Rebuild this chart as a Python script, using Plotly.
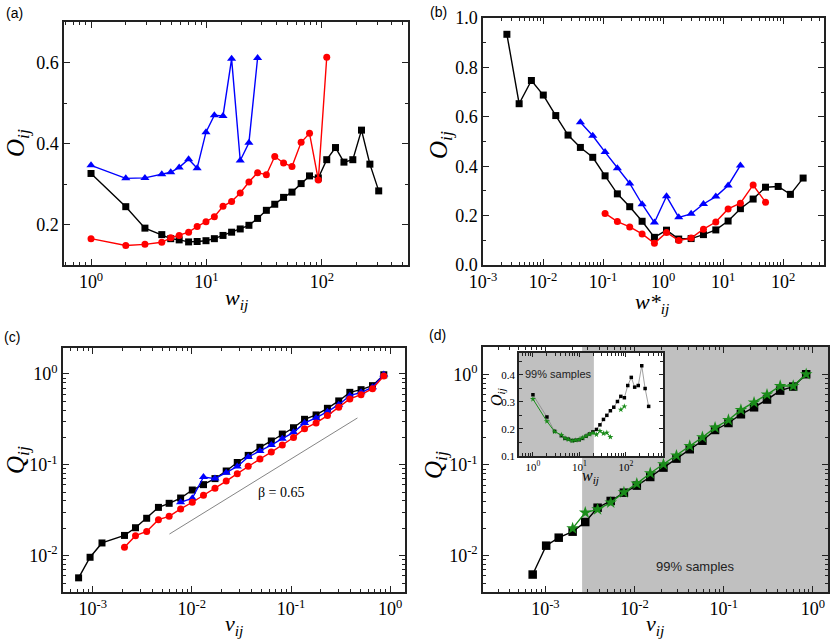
import math
import plotly.graph_objects as go

# ---------------- data ----------------
# panel (a): O_ij vs w_ij
a_w = [1, 2, 2.93, 4.1, 4.9, 5.8, 7.0, 8.3, 9.9, 11.7, 13.9, 16.5, 19.6, 23.3, 27.7,
       33, 39, 46.5, 55, 66, 78, 93, 110, 131, 155, 185, 220, 260, 310]
a_black = [0.326, 0.244, 0.191, 0.175, 0.165, 0.162, 0.157, 0.158, 0.160, 0.165, 0.173,
           0.181, 0.189, 0.198, 0.215, 0.235, 0.250, 0.267, 0.280, 0.301, 0.320, 0.315,
           0.360, 0.390, 0.354, 0.360, 0.433, 0.349, 0.283]
a_red = [0.165, 0.148, 0.151, 0.156, 0.167, 0.173, 0.181, 0.195, 0.207, 0.219, 0.245,
         0.257, 0.278, 0.305, 0.328, 0.323, 0.368, 0.352, 0.343, 0.403, 0.425, 0.310, 0.613]
a_blue = [0.346, 0.314, 0.315, 0.324, 0.329, 0.341, 0.361, 0.339, 0.428, 0.470, 0.468,
          0.609, 0.358, 0.402, 0.611]

# panel (b): O_ij vs w*_ij
b_w = [0.0025, 0.004, 0.0064, 0.0101, 0.0163, 0.0261, 0.0419, 0.0673, 0.108, 0.173,
       0.278, 0.447, 0.717, 1.14, 1.82, 2.93, 4.7, 7.55, 12.1, 19.4, 31.6, 50.8, 82.6,
       132, 215]
b_black = [0.934, 0.653, 0.747, 0.688, 0.605, 0.526, 0.476, 0.436, 0.361, 0.288, 0.236,
           0.177, 0.112, 0.141, 0.105, 0.107, 0.123, 0.142, 0.178, 0.228, 0.267, 0.315,
           0.318, 0.286, 0.352]
b_red_start = 8
b_red = [0.209, 0.176, 0.154, 0.126, 0.088, 0.132, 0.099, 0.109, 0.145, 0.174, 0.227,
         0.250, 0.324, 0.254]
b_blue_start = 6
b_blue = [0.578, 0.523, 0.457, 0.392, 0.330, 0.246, 0.172, 0.278, 0.193, 0.207, 0.247,
          0.277, 0.322, 0.403]

# panel (c): Q_ij vs v_ij
c_v = [7.2e-4, 9.4e-4, 1.24e-3, 2.09e-3, 2.7e-3, 3.5e-3, 4.6e-3, 5.9e-3, 7.7e-3, 0.0101,
       0.0131, 0.0171, 0.0222, 0.0287, 0.037, 0.0486, 0.0633, 0.0817, 0.106, 0.137, 0.179,
       0.233, 0.303, 0.392, 0.509, 0.664, 0.863]
c_black = [0.0057, 0.0096, 0.0138, 0.0167, 0.0203, 0.0258, 0.034, 0.0377, 0.0431, 0.0528,
           0.0605, 0.0705, 0.0855, 0.106, 0.127, 0.156, 0.183, 0.218, 0.256, 0.317, 0.354,
           0.419, 0.505, 0.628, 0.672, 0.744, 0.98]
c_red_start = 3
c_red = [0.0124, 0.0166, 0.0185, 0.0249, 0.0271, 0.0327, 0.0387, 0.0461, 0.0551, 0.0663,
         0.08, 0.0962, 0.116, 0.138, 0.165, 0.2, 0.25, 0.289, 0.348, 0.43, 0.531, 0.592,
         0.689, 0.95]
c_blue_start = 8
c_blue = [0.0387, 0.0428, 0.0735, 0.0705, 0.082, 0.096, 0.122, 0.142, 0.165, 0.194,
          0.228, 0.289, 0.328, 0.385, 0.459, 0.577, 0.628, 0.713, 0.99]
guide_v = [0.00594, 0.468]
guide_q = [0.0173, 0.328]
guide_label = "β = 0.65"

# panel (d): Q_ij vs v_ij, with 99% samples
d_v = [7.2e-4, 1.02e-3, 1.41e-3, 2.02e-3, 2.8e-3, 3.85e-3, 5.4e-3, 7.6e-3, 0.0106, 0.015,
       0.0211, 0.0295, 0.0416, 0.0577, 0.08, 0.113, 0.156, 0.219, 0.306, 0.43, 0.602, 0.842]
d_black = [0.0062, 0.0129, 0.0158, 0.0184, 0.0235, 0.0338, 0.0401, 0.0495, 0.0592, 0.0737,
           0.0935, 0.1175, 0.149, 0.185, 0.243, 0.29, 0.362, 0.432, 0.526, 0.66, 0.731, 1.0]
d_green_start = 3
d_green = [0.02, 0.0298, 0.0324, 0.0385, 0.05, 0.0623, 0.081, 0.1017, 0.127, 0.162, 0.202,
           0.258, 0.313, 0.404, 0.487, 0.597, 0.743, 0.743, 1.0]
d_sample_cut = 0.00258
inset_green = [0.31, 0.228, 0.19, 0.178, 0.166, 0.161, 0.156, 0.158, 0.161, 0.167, 0.174,
               0.18, 0.185, 0.179, 0.192, 0.183, 0.186, 0.17, None, None, 0.271, 0.283]
inset_sample_cut = 20.5
sample_label = "99% samples"

# ---------------- styling ----------------
SERIF = "Liberation Serif"
SANS = "Liberation Sans"
BLACK = "#000000"
RED = "#ff0000"
BLUE = "#0000ff"
GREEN = "#1a8c1a"
GRAY = "#c0c0c0"
W, H = 830, 641


def px(x, y):
    return x / W, 1 - y / H


def axis(**kw):
    base = dict(showline=True, linecolor="#222", linewidth=1.5, mirror="allticks",
                ticks="inside", ticklen=6, tickwidth=1.2, tickcolor="#222",
                showgrid=False, zeroline=False, automargin=False,
                tickfont=dict(family=SERIF, size=18, color="black"))
    base.update(kw)
    return base


def logminor():
    return dict(ticks="inside", ticklen=3, tickwidth=1, tickcolor="#222", dtick="D1", showgrid=False)


def linminor(d):
    return dict(ticks="inside", ticklen=3, tickwidth=1, tickcolor="#222", dtick=d, showgrid=False)


def pw(lo, hi):
    vals = [10 ** k for k in range(lo, hi + 1)]
    txt = ["10<sup>%d</sup>" % k for k in range(lo, hi + 1)]
    return vals, txt


fig = go.Figure()


def add(x, y, color, symbol, size, xa, ya, lw=1.4, lcolor=None):
    fig.add_trace(go.Scatter(x=x, y=y, mode="lines+markers", xaxis=xa, yaxis=ya,
                             line=dict(color=lcolor or color, width=lw),
                             marker=dict(color=color, symbol=symbol, size=size, line=dict(width=0)),
                             connectgaps=False, showlegend=False, hoverinfo="skip"))


a_rng = [-0.234, 2.745]
b_rng = [-3.0, 2.68]
c_rng = [-3.30, 0.15]
cy_rng = [-2.40, 0.286]
d_rng = [-3.70, 0.17]
dy_rng = [-2.40, 0.30]
i_rng = [-0.3, 2.8]
iy_rng = [0.1, 0.48]

# (a)
add(a_w, a_black, BLACK, "square", 7, "x", "y")
add(a_w[:len(a_red)], a_red, RED, "circle", 7, "x", "y")
add(a_w[:len(a_blue)], a_blue, BLUE, "triangle-up", 8, "x", "y")
# (b)
add(b_w, b_black, BLACK, "square", 7, "x2", "y2")
add(b_w[b_red_start:b_red_start + len(b_red)], b_red, RED, "circle", 7, "x2", "y2")
add(b_w[b_blue_start:b_blue_start + len(b_blue)], b_blue, BLUE, "triangle-up", 8, "x2", "y2")
# (c)
fig.add_trace(go.Scatter(x=guide_v, y=guide_q, mode="lines", xaxis="x3", yaxis="y3",
                         line=dict(color="#666", width=0.8), showlegend=False, hoverinfo="skip"))
add(c_v, c_black, BLACK, "square", 7, "x3", "y3")
add(c_v[c_blue_start:c_blue_start + len(c_blue)], c_blue, BLUE, "triangle-up", 8, "x3", "y3")
add(c_v[c_red_start:c_red_start + len(c_red)], c_red, RED, "circle", 7, "x3", "y3")
# (d)
add(d_v, d_black, BLACK, "square", 8.5, "x4", "y4")
add(d_v[d_green_start:d_green_start + len(d_green)], d_green, GREEN, "star", 9.5, "x4", "y4")
# inset: shaded 99% region then curves
ix0 = 10 ** i_rng[0]
fig.add_trace(go.Scatter(x=[ix0, inset_sample_cut, inset_sample_cut, ix0],
                         y=[iy_rng[0], iy_rng[0], iy_rng[1], iy_rng[1]],
                         mode="lines", fill="toself", fillcolor=GRAY, line=dict(width=0),
                         xaxis="x5", yaxis="y5", showlegend=False, hoverinfo="skip"))
add(a_w, a_black, BLACK, "square", 3.5, "x5", "y5", lw=0.8, lcolor="#888")
add(a_w[:len(inset_green)], inset_green, GREEN, "star", 4.5, "x5", "y5", lw=1.0)

v, t = pw(0, 2)
fig.update_layout(xaxis=axis(domain=[64 / W, 408 / W], anchor="y", type="log", range=a_rng,
                             tickvals=v, ticktext=t, minor=logminor()))
fig.update_layout(yaxis=axis(domain=[1 - 265 / H, 1 - 22 / H], anchor="x", range=[0.1, 0.7],
                             tickvals=[0.2, 0.4, 0.6], ticktext=["0.2", "0.4", "0.6"],
                             minor=linminor(0.1)))
v, t = pw(-3, 2)
fig.update_layout(xaxis2=axis(domain=[483 / W, 824 / W], anchor="y2", type="log", range=b_rng,
                              tickvals=v, ticktext=t, minor=logminor()))
fig.update_layout(yaxis2=axis(domain=[1 - 265 / H, 1 - 18 / H], anchor="x2", range=[0, 1.0],
                              tickvals=[0, 0.2, 0.4, 0.6, 0.8, 1.0],
                              ticktext=["0.0", "0.2", "0.4", "0.6", "0.8", "1.0"],
                              minor=linminor(0.1)))
v, t = pw(-3, 0)
fig.update_layout(xaxis3=axis(domain=[63 / W, 405 / W], anchor="y3", type="log", range=c_rng,
                              tickvals=v, ticktext=t, minor=logminor()))
v, t = pw(-2, 0)
fig.update_layout(yaxis3=axis(domain=[1 - 592 / H, 1 - 348 / H], anchor="x3", type="log", range=cy_rng,
                              tickvals=v, ticktext=t, minor=logminor()))
v, t = pw(-3, 0)
fig.update_layout(xaxis4=axis(domain=[483 / W, 828 / W], anchor="y4", type="log", range=d_rng,
                              tickvals=v, ticktext=t, minor=logminor()))
v, t = pw(-2, 0)
fig.update_layout(yaxis4=axis(domain=[1 - 592 / H, 1 - 347 / H], anchor="x4", type="log", range=dy_rng,
                              tickvals=v, ticktext=t, minor=logminor()))
v, t = pw(0, 2)
fig.update_layout(xaxis5=axis(domain=[519 / W, 663 / W], anchor="y5", type="log", range=i_rng,
                              tickvals=v, ticktext=t, minor=logminor(), ticklen=4,
                              tickfont=dict(family=SERIF, size=11, color="black")))
fig.update_layout(yaxis5=axis(domain=[1 - 456 / H, 1 - 353 / H], anchor="x5", range=iy_rng,
                              tickvals=[0.1, 0.2, 0.3, 0.4], ticktext=["0.1", "0.2", "0.3", "0.4"],
                              minor=linminor(0.05), ticklen=4,
                              tickfont=dict(family=SERIF, size=11, color="black")))

shapes = [
    dict(type="rect", xref="x4", yref="y4 domain", x0=d_sample_cut, x1=10 ** d_rng[1], y0=0, y1=1,
         fillcolor=GRAY, line=dict(width=0), layer="below"),
]

ann = []


def note(text, x, y, size, family=SERIF, angle=0, color="black", xanchor="center"):
    xx, yy = px(x, y)
    ann.append(dict(text=text, x=xx, y=yy, xref="paper", yref="paper", showarrow=False,
                    font=dict(family=family, size=size, color=color), textangle=angle,
                    xanchor=xanchor, yanchor="middle"))


for lab, (x, y) in zip(["(a)", "(b)", "(c)", "(d)"], [(14, 13), (438, 12), (12, 337), (437, 335)]):
    note(lab, x, y, 14, family=SANS)

OIJ = "<i>O</i><sub><i>ij</i></sub>"
QIJ = "<i>Q</i><sub><i>ij</i></sub>"
note(OIJ, 18, 143, 25, angle=-90)
note(OIJ, 441, 145, 25, angle=-90)
note(QIJ, 17, 460, 25, angle=-90)
note(QIJ, 435, 465, 25, angle=-90)
note("<i>w</i><sub><i>ij</i></sub>", 236, 299, 22)
note("<i>w*</i><sub><i>ij</i></sub>", 652, 303, 22)
note("<i>v</i><sub><i>ij</i></sub>", 234, 625, 22)
note("<i>v</i><sub><i>ij</i></sub>", 655, 625, 22)
note(OIJ, 497, 397, 16, angle=-90)
note("<i>w</i><sub><i>ij</i></sub>", 590, 476, 16)

ann.append(dict(text=guide_label, x=math.log10(0.0798), y=math.log10(0.0498), xref="x3", yref="y3",
                showarrow=False, font=dict(family=SERIF, size=14, color="black")))
ann.append(dict(text=sample_label, x=(695 - 483) / 345, y=(592 - 576) / 245,
                xref="x4 domain", yref="y4 domain", showarrow=False,
                font=dict(family=SANS, size=13, color="#222")))
ann.append(dict(text=sample_label, x=0.03, y=0.87, xref="x5 domain", yref="y5 domain",
                xanchor="left", showarrow=False, font=dict(family=SANS, size=11, color="#222")))

fig.update_layout(width=W, height=H, margin=dict(l=0, r=0, t=0, b=0, pad=0, autoexpand=False),
                  paper_bgcolor="white", plot_bgcolor="white",
                  shapes=shapes, annotations=ann, showlegend=False)

fig.write_html("out.html", config={"displayModeBar": False},
               post_script="document.body.style.margin='0';document.body.style.overflow='hidden';")
